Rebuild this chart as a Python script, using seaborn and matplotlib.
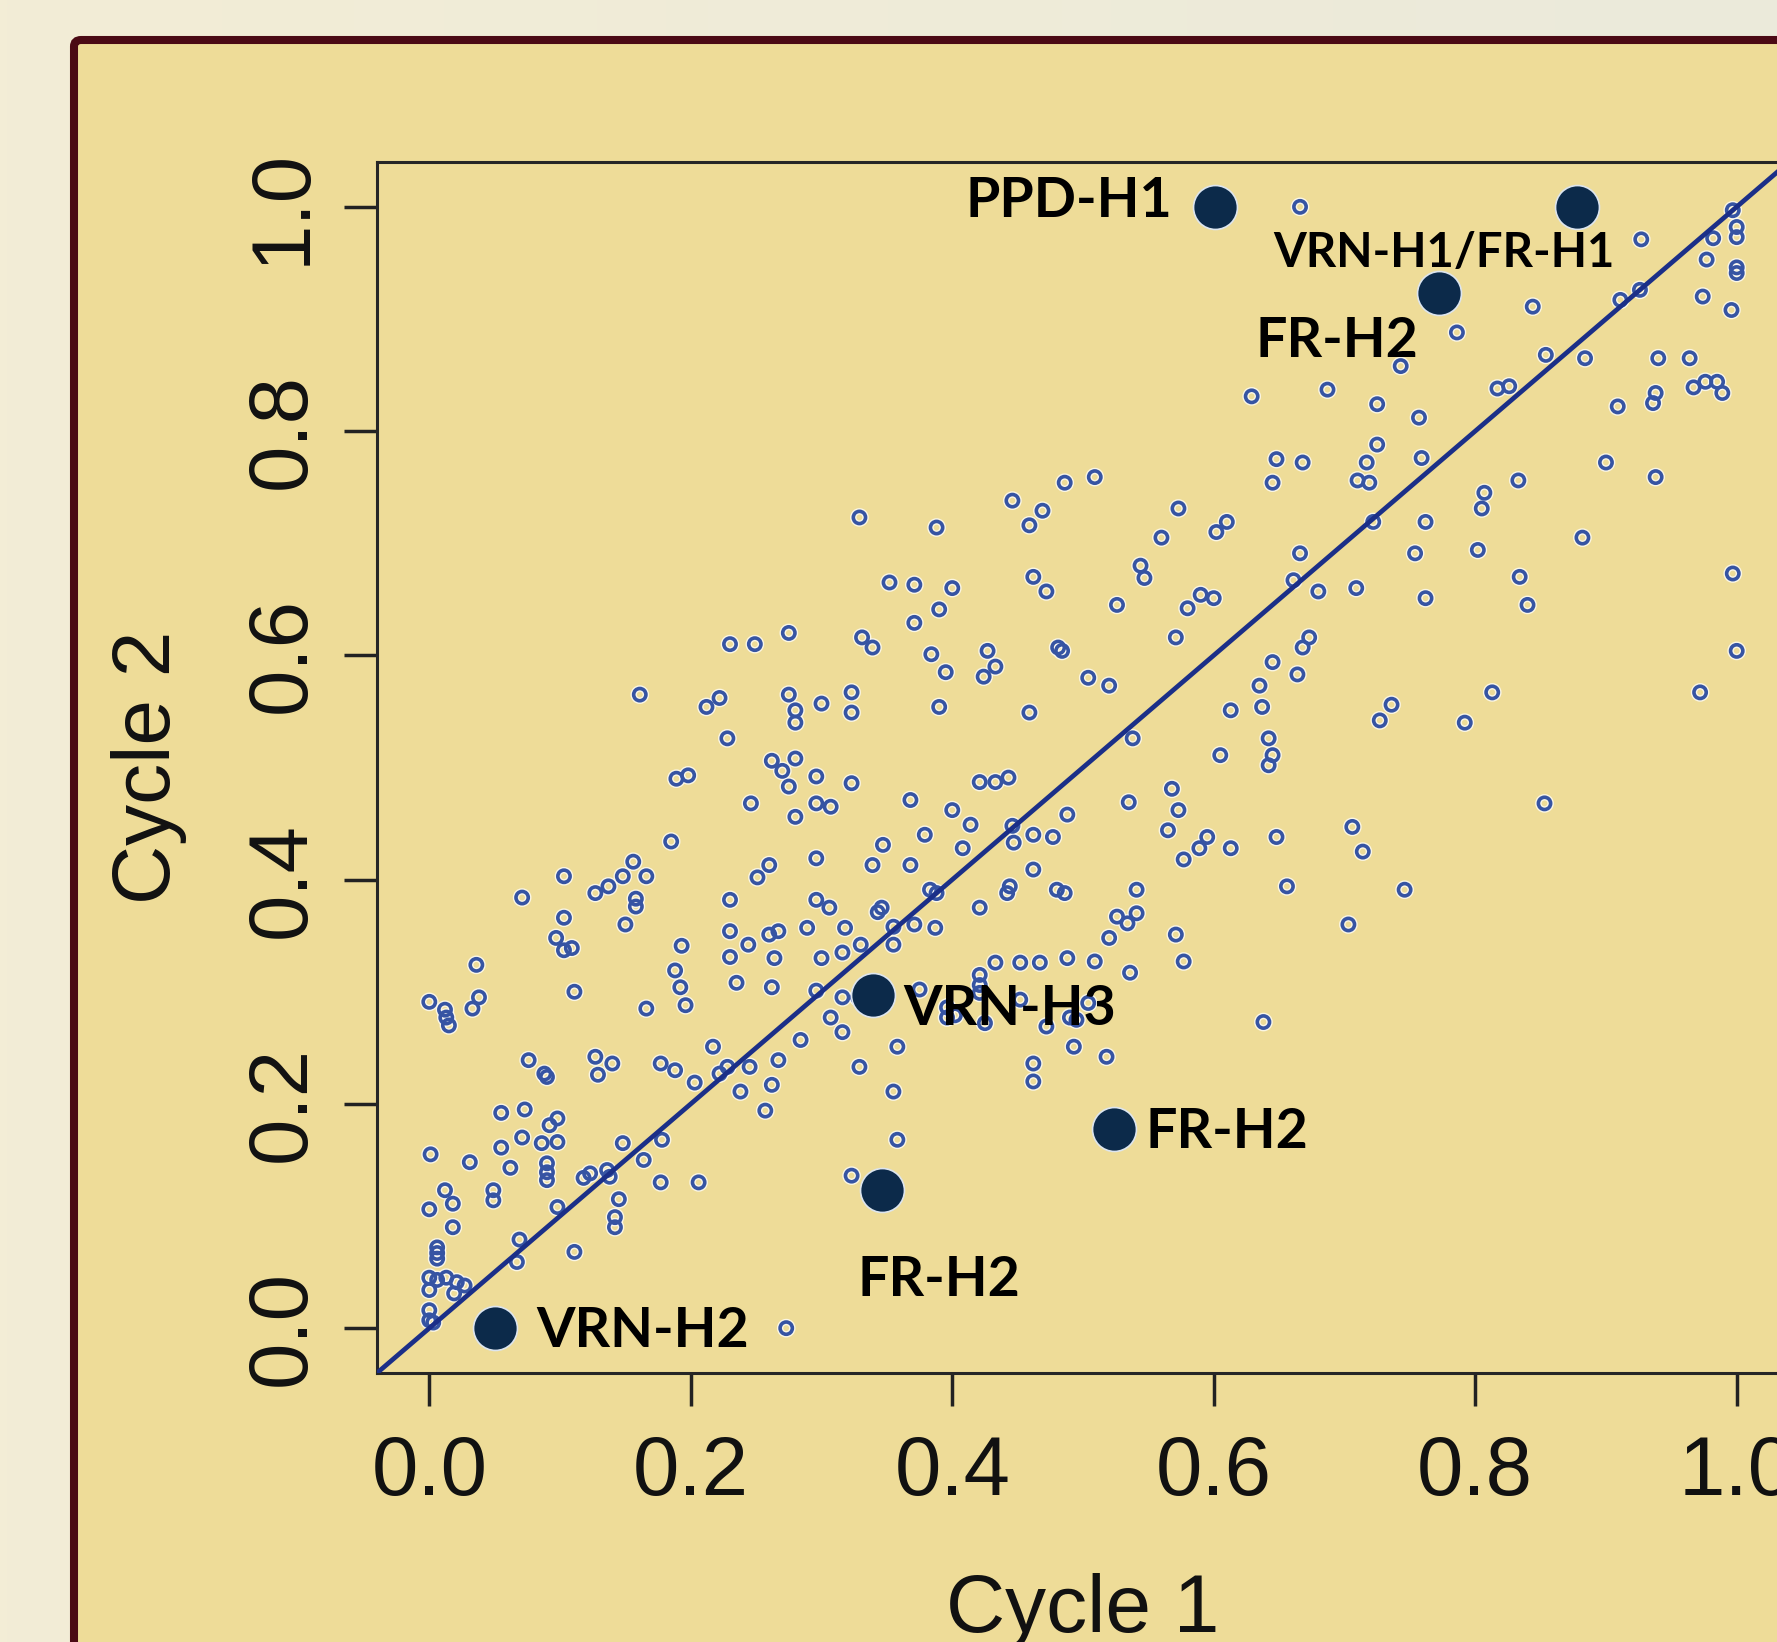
import numpy as np
import pandas as pd
import matplotlib
matplotlib.use("Agg")
import matplotlib.pyplot as plt
import seaborn as sns
from matplotlib.patches import FancyBboxPatch
import matplotlib.colors as mcolors

# ---------------- data ----------------
# upper middle
c1_a = [0.666, 0.629, 0.648, 0.668, 0.645, 0.573, 0.610, 0.602, 0.560, 0.666, 0.544,
        0.329, 0.388, 0.446, 0.486, 0.509, 0.469, 0.459]
c2_a = [1.000, 0.831, 0.775, 0.772, 0.754, 0.731, 0.719, 0.710, 0.705, 0.691, 0.680,
        0.723, 0.714, 0.738, 0.754, 0.759, 0.729, 0.716]
# upper right
c1_b = [0.927, 0.844, 0.786, 0.743, 0.687, 0.725, 0.757, 0.725, 0.717, 0.759, 0.710,
        0.719, 0.807, 0.805, 0.833, 0.762, 0.754, 0.802, 0.882, 0.722, 0.854, 0.884,
        0.940, 0.964, 0.817, 0.826, 0.938, 0.936, 0.909, 0.967, 0.976, 0.985, 0.989,
        0.900, 0.938, 0.977, 0.974, 0.996, 1.000, 1.000, 1.000, 1.000, 0.997, 0.982,
        0.911, 0.926]
c2_b = [0.971, 0.911, 0.888, 0.858, 0.837, 0.824, 0.812, 0.788, 0.772, 0.776, 0.756,
        0.754, 0.745, 0.731, 0.756, 0.719, 0.691, 0.694, 0.705, 0.719, 0.868, 0.865,
        0.865, 0.865, 0.838, 0.840, 0.834, 0.825, 0.822, 0.839, 0.844, 0.844, 0.834,
        0.772, 0.759, 0.953, 0.920, 0.908, 0.982, 0.973, 0.946, 0.941, 0.997, 0.972,
        0.917, 0.926]
# middle right
c1_c = [0.997, 0.834, 0.840, 0.680, 0.709, 0.762, 1.000, 0.813, 0.972, 0.736, 0.727,
        0.792, 0.853, 0.706, 0.714, 0.746, 0.703]
c2_c = [0.673, 0.670, 0.645, 0.657, 0.660, 0.651, 0.604, 0.567, 0.567, 0.556, 0.542,
        0.540, 0.468, 0.447, 0.425, 0.391, 0.360]
# centre
c1_d = [0.352, 0.371, 0.400, 0.462, 0.472, 0.547, 0.390, 0.371, 0.526, 0.590, 0.600,
        0.580, 0.661, 0.331, 0.339, 0.384, 0.427, 0.395, 0.433, 0.424, 0.481, 0.484,
        0.571, 0.673, 0.668, 0.323, 0.323, 0.390, 0.459, 0.504, 0.520, 0.645, 0.664,
        0.635, 0.637, 0.613, 0.538, 0.642, 0.605, 0.645, 0.642, 0.323, 0.421, 0.433,
        0.443, 0.368, 0.568, 0.535, 0.573, 0.400, 0.414, 0.488, 0.379, 0.347, 0.565,
        0.595, 0.589, 0.613, 0.648, 0.577, 0.408, 0.446, 0.447, 0.462, 0.477, 0.339,
        0.368, 0.462, 0.444, 0.442, 0.480, 0.486, 0.541, 0.656, 0.383, 0.388, 0.346,
        0.343, 0.421, 0.526, 0.534, 0.541, 0.520, 0.571, 0.318, 0.355, 0.371, 0.387,
        0.330, 0.355, 0.316, 0.433, 0.452, 0.467, 0.488, 0.509, 0.577]
c2_d = [0.665, 0.663, 0.660, 0.670, 0.657, 0.669, 0.641, 0.629, 0.645, 0.654, 0.651,
        0.642, 0.667, 0.616, 0.607, 0.601, 0.604, 0.585, 0.590, 0.581, 0.607, 0.604,
        0.616, 0.616, 0.607, 0.567, 0.549, 0.554, 0.549, 0.580, 0.573, 0.594, 0.583,
        0.573, 0.554, 0.551, 0.526, 0.526, 0.511, 0.511, 0.502, 0.486, 0.487, 0.487,
        0.491, 0.471, 0.481, 0.469, 0.462, 0.462, 0.449, 0.458, 0.440, 0.431, 0.444,
        0.438, 0.428, 0.428, 0.438, 0.418, 0.428, 0.448, 0.433, 0.440, 0.438, 0.413,
        0.413, 0.409, 0.394, 0.388, 0.391, 0.388, 0.391, 0.394, 0.391, 0.388, 0.375,
        0.371, 0.375, 0.367, 0.361, 0.370, 0.348, 0.351, 0.357, 0.358, 0.360, 0.357,
        0.342, 0.342, 0.335, 0.326, 0.326, 0.326, 0.330, 0.327, 0.327]
# middle left
c1_e = [0.275, 0.230, 0.249, 0.161, 0.212, 0.222, 0.275, 0.280, 0.280, 0.300, 0.228,
        0.262, 0.270, 0.275, 0.280, 0.296, 0.189, 0.198, 0.246, 0.296, 0.307, 0.280,
        0.185, 0.156, 0.148, 0.166, 0.137, 0.127, 0.103, 0.071, 0.158, 0.158, 0.103,
        0.150, 0.097, 0.103, 0.109, 0.230, 0.260, 0.251, 0.296, 0.296, 0.306, 0.230,
        0.244, 0.260, 0.267, 0.289, 0.193, 0.230, 0.264, 0.300]
c2_e = [0.620, 0.610, 0.610, 0.565, 0.554, 0.562, 0.565, 0.551, 0.540, 0.557, 0.526,
        0.506, 0.497, 0.483, 0.508, 0.492, 0.490, 0.493, 0.468, 0.468, 0.465, 0.456,
        0.434, 0.416, 0.403, 0.403, 0.394, 0.388, 0.403, 0.384, 0.383, 0.376, 0.366,
        0.360, 0.348, 0.337, 0.339, 0.382, 0.413, 0.402, 0.419, 0.382, 0.375, 0.354,
        0.342, 0.351, 0.354, 0.357, 0.341, 0.331, 0.330, 0.330]
# lower left
c1_f = [0.036, 0.000, 0.012, 0.013, 0.015, 0.038, 0.033, 0.111, 0.166, 0.188, 0.192,
        0.196, 0.235, 0.262, 0.307, 0.296, 0.076, 0.088, 0.090, 0.127, 0.140, 0.129,
        0.177, 0.188, 0.203, 0.217, 0.222, 0.228, 0.245, 0.267, 0.238, 0.262, 0.257,
        0.284, 0.055, 0.073, 0.098, 0.092, 0.071, 0.086, 0.098, 0.055, 0.001, 0.031,
        0.062, 0.090, 0.090, 0.090, 0.012, 0.018, 0.049, 0.049, 0.000, 0.018, 0.123,
        0.136, 0.138, 0.118, 0.148, 0.164, 0.178, 0.177, 0.206, 0.145, 0.142, 0.142,
        0.098, 0.111, 0.069, 0.067, 0.006, 0.006, 0.006, 0.000, 0.006, 0.013, 0.021,
        0.027, 0.000, 0.019, 0.000, 0.000, 0.003, 0.273]
c2_f = [0.324, 0.291, 0.284, 0.277, 0.270, 0.295, 0.285, 0.300, 0.285, 0.319, 0.304,
        0.288, 0.308, 0.304, 0.277, 0.301, 0.239, 0.227, 0.224, 0.242, 0.236, 0.226,
        0.236, 0.230, 0.219, 0.251, 0.227, 0.233, 0.233, 0.239, 0.211, 0.217, 0.194,
        0.257, 0.192, 0.195, 0.187, 0.181, 0.170, 0.165, 0.166, 0.161, 0.155, 0.148,
        0.143, 0.147, 0.139, 0.132, 0.123, 0.111, 0.123, 0.114, 0.106, 0.090, 0.138,
        0.141, 0.135, 0.134, 0.165, 0.150, 0.168, 0.130, 0.130, 0.115, 0.099, 0.090,
        0.108, 0.068, 0.079, 0.059, 0.067, 0.062, 0.072, 0.045, 0.043, 0.045, 0.041,
        0.038, 0.034, 0.031, 0.016, 0.007, 0.005, 0.000]
# lower middle
c1_g = [0.316, 0.328, 0.375, 0.396, 0.396, 0.402, 0.421, 0.421, 0.421, 0.425, 0.452,
        0.472, 0.490, 0.495, 0.504, 0.536, 0.638, 0.316, 0.358, 0.329, 0.355, 0.358,
        0.323, 0.462, 0.462, 0.493, 0.518]
c2_g = [0.295, 0.295, 0.302, 0.286, 0.277, 0.279, 0.315, 0.306, 0.299, 0.272, 0.293,
        0.269, 0.277, 0.275, 0.290, 0.317, 0.273, 0.264, 0.251, 0.233, 0.211, 0.168,
        0.136, 0.236, 0.220, 0.251, 0.242]

cycle1 = c1_a + c1_b + c1_c + c1_d + c1_e + c1_f + c1_g
cycle2 = c2_a + c2_b + c2_c + c2_d + c2_e + c2_f + c2_g

# highlighted genes
genes = ["PPD-H1", "VRN-H1/FR-H1", "FR-H2", "VRN-H3", "FR-H2", "FR-H2", "VRN-H2"]
gene_c1 = [0.601, 0.878, 0.772, 0.339, 0.524, 0.346, 0.050]
gene_c2 = [1.000, 1.000, 0.923, 0.297, 0.178, 0.123, 0.000]

ticks = [0.0, 0.2, 0.4, 0.6, 0.8, 1.0]
tick_labels = ["0.0", "0.2", "0.4", "0.6", "0.8", "1.0"]

# ---------------- layout (not data) ----------------
label_pos = [(0.489, 0.991), (0.776, 0.946), (0.694, 0.866), (0.444, 0.270),
             (0.610, 0.161), (0.390, 0.029), (0.163, -0.017)]
label_size = [40, 34, 40, 40, 40, 40, 40]

W, H = 1777, 1642
fig = plt.figure(figsize=(W / 100, H / 100), dpi=100)

# background gradient
bg = fig.add_axes([0, 0, 1, 1], zorder=-10)
c_left = np.array(mcolors.to_rgb("#f3edd6"))
c_right = np.array(mcolors.to_rgb("#ebeadb"))
t = np.linspace(0, 1, 256)[None, :, None]
grad = c_left * (1 - t) + c_right * t
grad = np.repeat(grad, 4, axis=0)
bg.imshow(grad, aspect="auto", extent=[0, 1, 0, 1], origin="lower")
bg.set_xlim(0, 1)
bg.set_ylim(0, 1)
bg.axis("off")
frame = FancyBboxPatch((74 / W, -0.2), 1.5, (1 - 40 / H) + 0.2,
                       boxstyle="round,pad=0,rounding_size=0.004",
                       transform=bg.transAxes, fc="#eedc98", ec="#4b0a14",
                       lw=5.8, clip_on=False, zorder=2)
bg.add_patch(frame)

ax = fig.add_axes([377 / W, (H - 1373) / H, (1789 - 377) / W, (1373 - 162) / H])
ax.set_facecolor("none")

df = pd.DataFrame({"Cycle 1": cycle1, "Cycle 2": cycle2})
gdf = pd.DataFrame({"Cycle 1": gene_c1, "Cycle 2": gene_c2, "gene": genes})

# white halo, then blue open circles
sns.scatterplot(data=df, x="Cycle 1", y="Cycle 2", ax=ax, s=78, marker="o",
                facecolors="none", edgecolor="#ffffff", linewidth=4.6, alpha=0.75,
                zorder=2, legend=False)
sns.scatterplot(data=df, x="Cycle 1", y="Cycle 2", ax=ax, s=78, marker="o",
                facecolors="none", edgecolor="#3654a3", linewidth=2.6,
                zorder=3, legend=False)
ax.axline((0, 0), slope=1, color="#1b2f88", lw=3.4, zorder=4)
sns.scatterplot(data=gdf, x="Cycle 1", y="Cycle 2", ax=ax, s=1000, marker="o",
                color="#0c2a4a", edgecolor="#dde5ee", linewidth=1.2,
                zorder=5, legend=False)

for name, (lx, ly), fs in zip(genes, label_pos, label_size):
    ax.text(lx, ly, name, ha="center", va="baseline", fontsize=fs,
            fontweight="bold", family="Lato", color="#000000", zorder=6)

ax.set_xlim(-0.04, 1.04)
ax.set_ylim(-0.04, 1.04)
ax.set_xticks(ticks)
ax.set_xticklabels(tick_labels)
ax.set_yticks(ticks)
ax.set_yticklabels(tick_labels)

for s in ax.spines.values():
    s.set_linewidth(2.2)
    s.set_color("#262626")

ax.tick_params(axis="both", length=24, width=2.5, color="#222222",
               labelsize=60, labelcolor="#111111")
ax.tick_params(axis="x", pad=20)
ax.tick_params(axis="y", pad=16, labelrotation=90)
for lab in ax.get_xticklabels() + ax.get_yticklabels():
    lab.set_family("Liberation Sans")
for lab in ax.get_yticklabels():
    lab.set_va("center")
    lab.set_ha("right")

ax.set_xlabel("Cycle 1", fontsize=59, family="Liberation Sans", color="#111111")
ax.xaxis.set_label_coords(0.5, -0.2139)
ax.xaxis.label.set_va("baseline")
ax.set_ylabel("Cycle 2", fontsize=59, family="Liberation Sans", color="#111111")
ax.yaxis.set_label_coords(-0.1466, 0.5)
ax.yaxis.label.set_rotation_mode("anchor")
ax.yaxis.label.set_va("baseline")
ax.yaxis.label.set_ha("center")

fig.savefig("out.png", dpi=100)
